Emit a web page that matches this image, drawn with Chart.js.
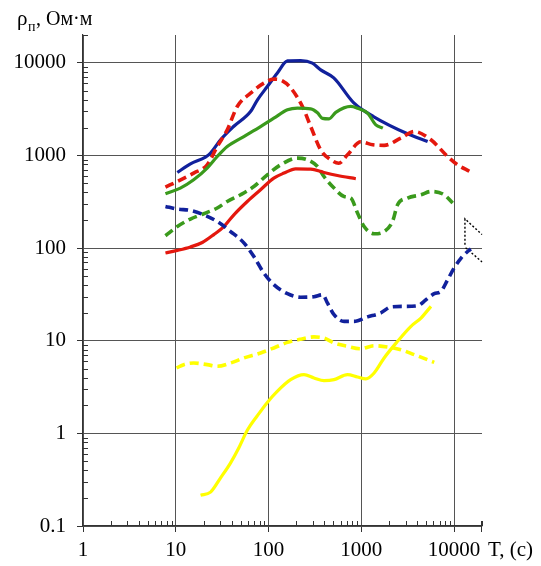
<!DOCTYPE html>
<html>
<head>
<meta charset="utf-8">
<script src="https://cdn.jsdelivr.net/npm/chart.js@4.4.0/dist/chart.umd.min.js"></script>
<style>
  html, body { margin: 0; padding: 0; background: #ffffff; }
  #wrap { width: 541px; height: 566px; position: relative; }
</style>
</head>
<body>
<div id="wrap"><canvas id="chart" width="541" height="566"></canvas></div>
<script>
// Apparent resistivity curves, rho (Ohm·m) against period T (s)
const xTicks = [1, 10, 100, 1000, 10000];
const yTicks = [0.1, 1, 10, 100, 1000, 10000];

const blueSolidT = [10.4, 14.4, 20.9, 23.7, 30.4, 42, 64, 76, 97, 124, 160, 222, 297, 365, 505, 830, 1365, 3150, 5190];
const blueSolidR = [656, 813, 961, 1061, 1477, 2055, 2985, 3990, 5550, 7740, 10500, 10600, 9930, 8400, 6890, 3700, 2615, 1715, 1416];

const redDashT = [7.74, 10.4, 15.6, 21.8, 28, 35.9, 46, 64, 89, 114, 141, 173, 232, 285, 365, 469, 571, 710, 988, 1330, 1762, 2670, 3720, 5630, 8530, 10900, 14600];
const redDashR = [456, 525, 646, 794, 1250, 1893, 3380, 4710, 6040, 6670, 6400, 5380, 3380, 2055, 1150, 899, 824, 1018, 1406, 1305, 1288, 1540, 1815, 1477, 975, 794, 676];

const greenSolidT = [7.74, 11.2, 15.6, 21.8, 28, 35.9, 54.2, 82, 114, 160, 205, 285, 337, 381, 449, 530, 771, 910, 1167, 1435, 1707];
const greenSolidR = [386, 445, 547, 731, 975, 1250, 1603, 2055, 2530, 3110, 3245, 3190, 2890, 2520, 2490, 2925, 3395, 3245, 2866, 2143, 1975];

const greenDashT = [7.74, 10.4, 14.4, 20, 28, 35.9, 50, 69.5, 97, 135, 205, 262, 337, 396, 508, 652, 771, 910, 1072, 1375, 1762, 2170, 2460, 3150, 4400, 5630, 7830, 9660];
const greenDashR = [136, 171, 206, 235, 271, 319, 377, 463, 619, 794, 937, 900, 760, 593, 445, 361, 347, 239, 171, 143, 151, 194, 294, 347, 377, 409, 377, 307];

const redSolidT = [7.74, 10.4, 14.4, 19.3, 25.7, 33, 42.3, 59, 82, 114, 147, 196, 285, 396, 553, 873];
const redSolidR = [88.5, 94.5, 103, 115, 140, 171, 229, 319, 427, 570, 646, 719, 713, 656, 609, 561];

const blueDashT = [7.74, 10.4, 14.4, 20, 28, 39, 54.2, 69.5, 89, 114, 160, 222, 309, 384, 431, 508, 652, 836, 1167, 1624, 2080, 2900, 4040, 4980, 6110, 7210, 8530, 10000, 11900, 14000, 15200];
const blueDashR = [282, 264, 255, 229, 194, 151, 114, 81, 53.8, 40.3, 32.2, 29.5, 29.9, 31.4, 25.6, 19.1, 16.2, 16.2, 18.1, 20, 23.2, 23.5, 23.9, 27.7, 32.2, 34.1, 45.6, 61, 78, 92, 97.7];

const yellowDashT = [10.2, 12.2, 15.6, 21.8, 28, 39, 54.2, 82, 114, 160, 222, 309, 396, 508, 710, 988, 1375, 1920, 2670, 3720, 6110];
const yellowDashR = [5.09, 5.52, 5.75, 5.52, 5.30, 5.75, 6.52, 7.38, 8.36, 9.6, 10.4, 11.0, 10.7, 9.47, 8.7, 8.2, 8.85, 8.57, 8.0, 7.08, 5.85];

const yellowSolidT = [18.5, 23.7, 30.4, 39, 47.9, 59, 75.7, 97, 124, 173, 241, 309, 396, 508, 710, 910, 1120, 1375, 1762, 2460, 3430, 4400, 5630];
const yellowSolidR = [0.215, 0.232, 0.331, 0.481, 0.70, 1.08, 1.55, 2.16, 2.84, 3.80, 4.31, 3.97, 3.71, 3.80, 4.31, 4.06, 3.87, 4.49, 6.52, 9.86, 14.3, 17.6, 23.5];

// dotted marker at the right edge (null splits the two strokes)
const markT = [13100, 13100, 20000, 13300, 13300, 20000];
const markR = [109, 207, 140, null, 101, 71];

const SERIF = '"Liberation Serif", "Times New Roman", serif';
const BLUE = '#11219c';
const RED = '#e4180e';
const GREEN = '#3a9a1c';
const YELLOW = '#ffff00';

function pts(T, R) { return T.map((t, i) => ({ x: t, y: R[i] })); }

function line(T, R, color, dashed) {
  return {
    data: pts(T, R),
    borderColor: color,
    borderWidth: dashed ? 3.6 : 3.2,
    borderDash: dashed ? [9, 5] : [],
    pointRadius: 0,
    cubicInterpolationMode: 'monotone',
    fill: false
  };
}

const datasets = [
  line(yellowSolidT, yellowSolidR, YELLOW, false),
  line(yellowDashT, yellowDashR, YELLOW, true),
  line(blueDashT, blueDashR, BLUE, true),
  line(redSolidT, redSolidR, RED, false),
  line(greenDashT, greenDashR, GREEN, true),
  line(greenSolidT, greenSolidR, GREEN, false),
  line(redDashT, redDashR, RED, true),
  line(blueSolidT, blueSolidR, BLUE, false),
  {
    data: pts(markT, markR),
    borderColor: '#000000',
    borderWidth: 1.4,
    borderDash: [2, 2],
    pointRadius: 0,
    tension: 0,
    spanGaps: false,
    clip: false
  }
];

// minor log ticks and the axis titles
const decor = {
  id: 'decor',
  afterDraw(chart) {
    const ctx = chart.ctx;
    const xs = chart.scales.x, ys = chart.scales.y;
    const a = chart.chartArea;
    ctx.save();
    ctx.strokeStyle = '#333333';
    ctx.lineWidth = 1;
    ctx.beginPath();
    for (let d = 1; d <= 10000; d *= 10) {
      for (let m = 2; m <= 9; m++) {
        const v = d * m;
        if (v > xs.max) continue;
        const px = Math.round(xs.getPixelForValue(v)) + 0.5;
        ctx.moveTo(px, a.bottom);
        ctx.lineTo(px, a.bottom - 5);
      }
    }
    // closing tick at the end of the period axis
    const rx = Math.round(a.right) - 0.5;
    ctx.moveTo(rx, a.bottom - 5);
    ctx.lineTo(rx, a.bottom + 6);
    for (let d = 0.1; d <= 10000; d *= 10) {
      for (let m = 2; m <= 9; m++) {
        const v = d * m;
        if (v > ys.max) continue;
        const py = Math.round(ys.getPixelForValue(v)) + 0.5;
        ctx.moveTo(a.left, py);
        ctx.lineTo(a.left + 5, py);
      }
    }
    ctx.stroke();

    ctx.fillStyle = '#000000';
    ctx.textBaseline = 'alphabetic';
    ctx.textAlign = 'left';
    ctx.font = '21px ' + SERIF;
    ctx.fillText('ρ', 17, 25);
    ctx.font = '14px ' + SERIF;
    ctx.fillText('п', 28, 31);
    ctx.font = '20px ' + SERIF;
    ctx.fillText(', Ом·м', 36, 25);

    ctx.font = '21px ' + SERIF;
    ctx.textBaseline = 'middle';
    ctx.fillText('T, (c)', 488, 550);
    ctx.restore();
  }
};

new Chart(document.getElementById('chart'), {
  type: 'line',
  data: { datasets },
  plugins: [decor],
  options: {
    responsive: false,
    animation: false,
    devicePixelRatio: 1,
    layout: { padding: { top: 35, right: 59, left: 0, bottom: 0 } },
    plugins: { legend: { display: false }, tooltip: { enabled: false } },
    scales: {
      x: {
        type: 'logarithmic',
        min: 1,
        max: 20000,
        afterBuildTicks: s => { s.ticks = xTicks.map(v => ({ value: v })); },
        afterFit: s => { s.height = 40; },
        border: { color: '#333333', width: 1.2 },
        grid: {
          color: '#555555',
          lineWidth: 1,
          tickLength: 6,
          tickColor: '#333333'
        },
        ticks: {
          color: '#000000',
          font: { family: SERIF, size: 21 },
          padding: 6,
          maxRotation: 0,
          autoSkip: false,
          callback: v => String(v)
        }
      },
      y: {
        type: 'logarithmic',
        min: 0.1,
        max: 20000,
        afterBuildTicks: s => { s.ticks = yTicks.map(v => ({ value: v })); },
        afterFit: s => { s.width = 83; },
        border: { color: '#333333', width: 1.2 },
        grid: {
          color: '#555555',
          lineWidth: 1,
          tickLength: 6,
          tickColor: '#333333'
        },
        ticks: {
          color: '#000000',
          font: { family: SERIF, size: 21 },
          padding: 11,
          autoSkip: false,
          callback: v => String(v)
        }
      }
    }
  }
});
</script>
</body>
</html>
